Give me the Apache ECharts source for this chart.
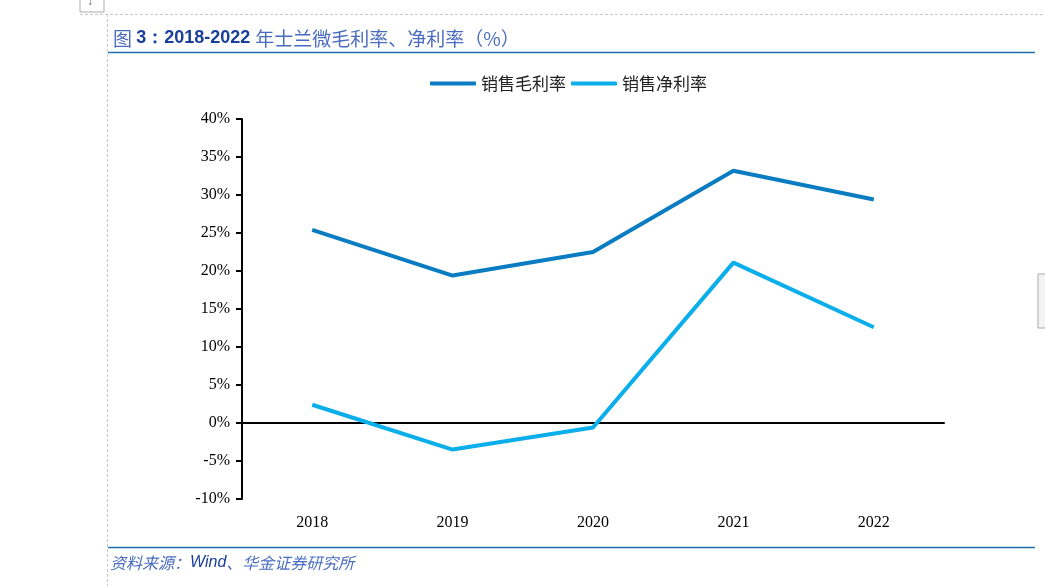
<!DOCTYPE html>
<html><head><meta charset="utf-8">
<script src="https://cdn.jsdelivr.net/npm/echarts@6/dist/echarts.min.js"></script>
<style>html,body{margin:0;padding:0;background:#fff}#c{width:1045px;height:586px}</style>
</head><body><div id="c"></div>
<script>
const categories = ['2018','2019','2020','2021','2022'];
const grossMargin = [25.4, 19.4, 22.5, 33.2, 29.4];
const netMargin = [2.4, -3.5, -0.6, 21.1, 12.6];
const yTicks = {min: -10, max: 40, interval: 5};
const seriesNames = ['销售毛利率', '销售净利率'];

const chart = echarts.init(document.getElementById('c'));
chart.setOption({
  animation: false,
  backgroundColor: '#fff',
  title: {
    left: 108, top: 24,
    text: '{a|图 }{b|3：2018-2022 }{a|年士兰微毛利率、净利率（%）}',
    textStyle: {
      fontWeight: 'normal',
      rich: {
        a: {fontFamily: 'Noto Sans CJK SC', fontSize: 19, fontWeight: 'normal', color: '#4a6cc0'},
        b: {fontFamily: 'Liberation Sans', fontSize: 18, fontWeight: 'bold', color: '#1a3f9a'}
      }
    }
  },
  legend: {
    top: 70, left: 425,
    itemWidth: 46, itemHeight: 4, itemGap: 5,
    icon: 'roundRect',
    textStyle: {fontFamily: 'Noto Sans CJK SC', fontSize: 17, color: '#222'},
    data: seriesNames
  },
  grid: {left: 242, top: 119, right: 101, bottom: 87, outerBoundsMode: 'none', containLabel: false},
  xAxis: [{
    type: 'category', data: categories, boundaryGap: true,
    axisLine: {show: false, onZero: false},
    axisTick: {show: false},
    axisLabel: {fontFamily: 'Liberation Serif', fontSize: 16, color: '#000', margin: 16},
    position: 'bottom'
  }, {
    type: 'category', data: categories, boundaryGap: true,
    axisLine: {show: true, onZero: true, lineStyle: {color: '#000', width: 2}},
    axisTick: {show: false},
    axisLabel: {show: false},
    position: 'bottom'
  }],
  yAxis: {
    type: 'value', min: yTicks.min, max: yTicks.max, interval: yTicks.interval,
    axisLine: {show: true, lineStyle: {color: '#000', width: 2}},
    axisTick: {show: true, length: 6, lineStyle: {color: '#000', width: 2}},
    splitLine: {show: false},
    axisLabel: {fontFamily: 'Liberation Serif', fontSize: 16, color: '#000', margin: 12,
      formatter: v => v + '%'}
  },
  series: [
    {name: seriesNames[0], type: 'line', data: grossMargin, symbol: 'none',
     lineStyle: {width: 4, color: '#0A7CC1'}, itemStyle: {color: '#0A7CC1'}},
    {name: seriesNames[1], type: 'line', data: netMargin, symbol: 'none',
     lineStyle: {width: 4, color: '#0AAEEA'}, itemStyle: {color: '#0AAEEA'}}
  ],
  graphic: [
    {type: 'line', shape: {x1: 80, y1: 14.5, x2: 1045, y2: 14.5}, style: {stroke: '#c8c8c8', lineDash: [3, 2], lineWidth: 1}},
    {type: 'line', shape: {x1: 107.5, y1: 14, x2: 107.5, y2: 586}, style: {stroke: '#c8c8c8', lineDash: [3, 2], lineWidth: 1}},
    {type: 'rect', shape: {x: 80, y: -2, width: 24, height: 14}, style: {fill: '#fff', stroke: '#aaa', lineWidth: 1}},
    {type: 'text', left: 87, top: -4, style: {text: '↓', fontSize: 12, fill: '#666'}},
    {type: 'line', shape: {x1: 108, y1: 52.5, x2: 1035, y2: 52.5}, style: {stroke: '#1f6fb5', lineWidth: 1.5}},
    {type: 'line', shape: {x1: 108, y1: 547.5, x2: 1035, y2: 547.5}, style: {stroke: '#1f6fb5', lineWidth: 1.5}},
    {type: 'rect', shape: {x: 1038, y: 274, width: 10, height: 54}, style: {fill: '#f4f4f4', stroke: '#aaa', lineWidth: 1}},
    {type: 'text', left: 110, top: 555, style: {
      text: '{a|资料来源：}{b|Wind}{a|、华金证券研究所}',
      rich: {
        a: {fontFamily: 'Noto Sans CJK SC', fontSize: 16, fontStyle: 'italic', fill: '#4a6cc0'},
        b: {fontFamily: 'Liberation Sans', fontSize: 16, fontStyle: 'italic', fill: '#1a3f9a'}
      }
    }}
  ]
});
</script></body></html>
